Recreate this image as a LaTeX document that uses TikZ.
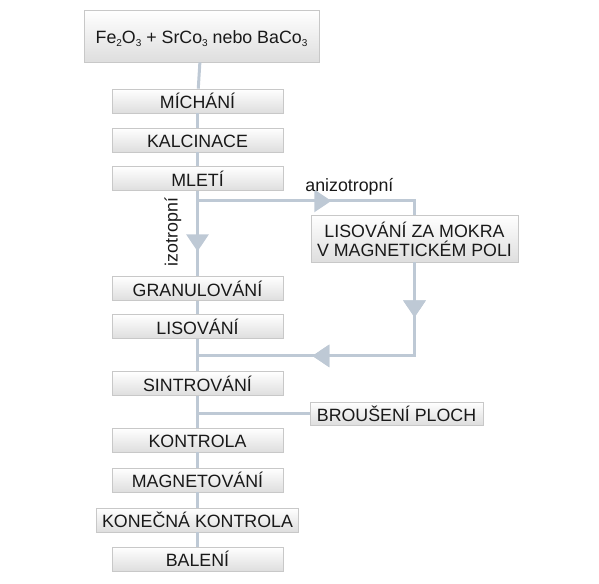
\documentclass[tikz,border=0pt]{standalone}
\usepackage{fontspec}
\setmainfont{Liberation Sans}
\usetikzlibrary{arrows.meta, positioning, decorations.markings}

\definecolor{flowline}{RGB}{190,201,213}
\definecolor{boxedge}{RGB}{200,200,200}
\definecolor{boxfill}{RGB}{222,222,222}
\definecolor{boxtext}{RGB}{25,25,25}

\newcommand{\chemsub}[1]{\raisebox{-3.5pt}{\fontsize{10}{10}\selectfont #1}}

\begin{document}
\begin{tikzpicture}[x=1pt, y=-1pt,
    stepbox/.style={rectangle, draw=boxedge, line width=0.8pt, top color=white, bottom color=boxfill, minimum width=171pt, minimum height=24pt, inner sep=0pt, text height=15.5pt, text depth=0pt, align=center, text=boxtext, font=\fontsize{17.8}{19}\selectfont},
    flow/.style={draw=flowline, line width=3pt},
    midarrow/.style={postaction={decorate}, decoration={markings, mark=at position #1 with {\arrow[flowline]{Triangle[length=17pt, width=22pt]}}}},
    label/.style={text=boxtext, font=\fontsize{17.8}{19}\selectfont},
]

\useasboundingbox (0,0) rectangle (599,583);

% Main line of steps
\node[stepbox, minimum width=235pt, minimum height=52pt, text height=15pt] (start) at (201.5, 36) {Fe\chemsub{2}O\chemsub{3} + SrCo\chemsub{3} nebo BaCo\chemsub{3}};
\node[stepbox] (mich) at (197.5, 101) {MÍCHÁNÍ};
\node[stepbox] (kalc) at (197.5, 140) {KALCINACE};
\node[stepbox] (mleti) at (197.5, 178.5) {MLETÍ};
\node[stepbox] (gran) at (197.5, 288.5) {GRANULOVÁNÍ};
\node[stepbox] (lis) at (197.5, 326.5) {LISOVÁNÍ};
\node[stepbox] (sint) at (197.5, 383.5) {SINTROVÁNÍ};
\node[stepbox] (kontr) at (197.5, 440) {KONTROLA};
\node[stepbox] (magn) at (197.5, 480) {MAGNETOVÁNÍ};
\node[stepbox, minimum width=202pt] (konec) at (197.5, 520) {KONEČNÁ KONTROLA};
\node[stepbox] (bal) at (197.5, 559) {BALENÍ};

% Side steps
\node[stepbox, minimum width=207pt, minimum height=47pt, text height=35pt] (mokra) at (414.5, 238.5) {LISOVÁNÍ ZA MOKRA\\V MAGNETICKÉM POLI};
\node[stepbox, minimum width=173pt, minimum height=23pt] (brou) at (396.5, 413.5) {BROUŠENÍ PLOCH};

\coordinate (split) at ([yshift=-10pt]mleti.south);
\coordinate (anizo) at (split -| mokra);
\coordinate (ret) at ([yshift=-17pt]lis.south -| mokra);
\coordinate (join) at (ret -| lis);
\coordinate (grind) at (brou -| sint);

% Connections
\draw[flow] (start) -- (mich);
\draw[flow] (mich) -- (kalc);
\draw[flow] (kalc) -- (mleti);
\draw[flow, midarrow=0.71] (mleti) -- (gran);
\node[label, rotate=90] (izo) at (173, 232) {izotropní};
\draw[flow] (gran) -- (lis);
\draw[flow] (lis) -- (sint);
\draw[flow] (sint) -- (kontr);
\draw[flow] (kontr) -- (magn);
\draw[flow] (magn) -- (konec);
\draw[flow] (konec) -- (bal);

% Anisotropic branch
\draw[flow, midarrow=0.58] (split) --
    node[label, pos=0.7, above=1pt] (aniz) {anizotropní} (anizo) -- (mokra);
\draw[flow, midarrow=0.177, midarrow=0.63] (mokra) -- (ret) -- (join);
\draw[flow] (grind) -- (brou);

\end{tikzpicture}
\end{document}
